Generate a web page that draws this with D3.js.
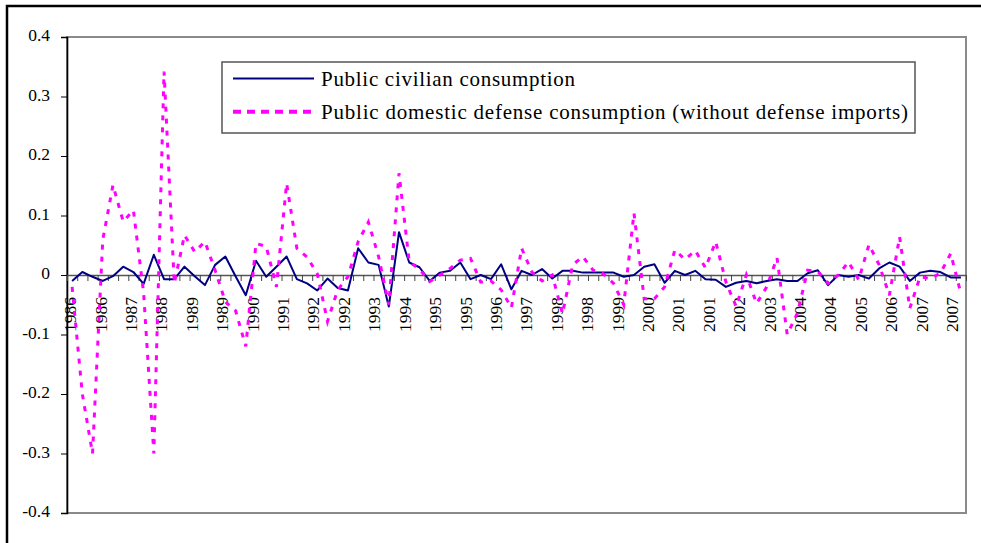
<!DOCTYPE html>
<html>
<head>
<meta charset="utf-8">
<script src="https://cdn.jsdelivr.net/npm/d3@7"></script>
<style>
    html, body { margin: 0; padding: 0; background: #fff; }
    svg { display: block; }
    svg text { font-family: "Liberation Serif", "Times New Roman", serif; }
</style>
</head>
<body>
<svg id="chart" width="981" height="543"></svg>
<script>
// quarterly observations, 1986Q1 .. 2007Q4
const years = d3.range(1986, 2008);
const quarters = years.flatMap(y => [y, y, y, y]);

const civilian = [
    -0.010, 0.005, -0.003, -0.010, -0.002, 0.014, 0.005, -0.015, 0.034, -0.007,
    -0.007, 0.014, -0.002, -0.017, 0.017, 0.031, -0.002, -0.034, 0.024, -0.003,
    0.014, 0.031, -0.007, -0.014, -0.026, -0.006, -0.022, -0.026, 0.045, 0.021,
    0.017, -0.053, 0.072, 0.021, 0.013, -0.010, 0.004, 0.007, 0.021, -0.007,
    0.000, -0.007, 0.018, -0.024, 0.007, 0.000, 0.010, -0.006, 0.007, 0.007,
    0.004, 0.004, 0.004, 0.004, -0.003, 0.000, 0.014, 0.018, -0.013, 0.007,
    0.000, 0.007, -0.007, -0.008, -0.020, -0.013, -0.010, -0.014, -0.010, -0.007,
    -0.010, -0.010, 0.003, 0.008, -0.017, 0.000, -0.003, 0.000, -0.006, 0.011,
    0.021, 0.014, -0.010, 0.004, 0.007, 0.005, -0.004, -0.004
];

const defense = [
    -0.020, -0.200, -0.300, 0.059, 0.151, 0.090, 0.109, -0.030, -0.300, 0.342,
    -0.014, 0.067, 0.039, 0.056, 0.008, -0.045, -0.060, -0.120, 0.053, 0.048,
    -0.020, 0.154, 0.045, 0.030, 0.002, -0.078, -0.025, -0.003, 0.056, 0.089,
    0.031, -0.050, 0.171, 0.022, 0.010, -0.011, 0.000, 0.011, 0.025, 0.028,
    -0.012, -0.010, -0.025, -0.055, 0.045, 0.005, -0.010, 0.000, -0.065, 0.017,
    0.031, 0.008, 0.002, -0.014, -0.050, 0.104, -0.040, -0.040, -0.020, 0.042,
    0.026, 0.041, 0.012, 0.056, -0.012, -0.053, 0.000, -0.048, -0.020, 0.029,
    -0.100, -0.064, 0.008, 0.006, -0.014, 0.000, 0.022, -0.008, 0.051, 0.017,
    -0.034, 0.064, -0.056, -0.003, -0.006, 0.003, 0.036, -0.031
];

const yTicks = [0.4, 0.3, 0.2, 0.1, 0, -0.1, -0.2, -0.3, -0.4];
const seriesNames = [
    "Public civilian consumption",
    "Public domestic defense consumption (without defense imports)"
];

document.addEventListener('DOMContentLoaded', () => {

    const svg = d3.select("#chart");
    const plot = { left: 67, right: 966, top: 37, bottom: 513 };
    const serif = "Liberation Serif, Times New Roman, serif";

    // outer chart frame
    svg.append("rect")
        .attr("x", 7).attr("y", 6)
        .attr("width", 1000).attr("height", 600)
        .attr("fill", "none")
        .attr("stroke", "#000")
        .attr("stroke-width", 2.5);

    // scales
    const idx = d3.range(quarters.length);
    const x = d3.scaleBand().domain(idx).range([plot.left, plot.right]);
    const xc = i => x(i) + x.bandwidth() / 2;
    const xEdge = d3.scaleLinear().domain([0, quarters.length]).range([plot.left, plot.right]);
    const xLabel = d3.scaleLinear().domain([0, quarters.length - 1]).range([70, 952]);
    const y = d3.scaleLinear().domain([-0.4, 0.4]).range([plot.bottom, plot.top]);

    // plot area border
    svg.append("rect")
        .attr("x", plot.left).attr("y", plot.top)
        .attr("width", plot.right - plot.left)
        .attr("height", plot.bottom - plot.top)
        .attr("fill", "none")
        .attr("stroke", "#8a8a8a")
        .attr("stroke-width", 2);

    // y axis
    const yAxis = d3.axisLeft(y)
        .tickValues(yTicks)
        .tickSize(6)
        .tickPadding(11)
        .tickFormat(d => d === 0 ? "0" : d.toFixed(1));

    const gy = svg.append("g")
        .attr("transform", `translate(${plot.left},0)`)
        .call(yAxis)
        .attr("font-family", serif)
        .attr("font-size", 17.5);
    gy.select(".domain").attr("stroke", "#000").attr("stroke-width", 1.6);
    gy.selectAll(".tick line").attr("stroke", "#000");
    gy.selectAll(".tick text")
        .attr("fill", "#000")
        .attr("dy", "0.2em");

    // x axis at zero: ticks on every quarter boundary
    const xAxis = d3.axisBottom(xEdge)
        .tickValues(d3.range(quarters.length + 1))
        .tickSize(6)
        .tickSizeOuter(0)
        .tickFormat("");

    const gx = svg.append("g")
        .attr("transform", `translate(0,${y(0)})`)
        .call(xAxis);
    gx.select(".domain").attr("stroke", "#555").attr("stroke-width", 1.6);
    gx.selectAll(".tick line").attr("stroke", "#444");

    // year labels on every third quarter, rotated
    svg.append("g")
        .attr("font-family", serif)
        .selectAll("text")
        .data(idx.filter(i => i % 3 === 0))
        .enter().append("text")
        .attr("transform", i => `translate(${xLabel(i)},${y(0) + 22}) rotate(-90)`)
        .attr("text-anchor", "end")
        .attr("dy", "0.35em")
        .attr("font-size", 17.5)
        .attr("fill", "#000")
        .text(i => quarters[i]);

    // series lines
    const line = d3.line()
        .x((d, i) => xc(i))
        .y(d => y(d));

    svg.append("path")
        .datum(civilian)
        .attr("fill", "none")
        .attr("stroke", "#000080")
        .attr("stroke-width", 2)
        .attr("stroke-linejoin", "round")
        .attr("d", line);

    svg.append("path")
        .datum(defense)
        .attr("fill", "none")
        .attr("stroke", "#ff00ff")
        .attr("stroke-width", 3)
        .attr("stroke-dasharray", "5,7")
        .attr("d", line);

    // legend
    const lg = svg.append("g").attr("font-family", serif);
    lg.append("rect")
        .attr("x", 222).attr("y", 62)
        .attr("width", 693).attr("height", 71)
        .attr("fill", "#fff")
        .attr("stroke", "#555")
        .attr("stroke-width", 1.5);

    const legendRows = [
        { name: seriesNames[0], color: "#000080", width: 2, dash: null, len: 254 },
        { name: seriesNames[1], color: "#ff00ff", width: 4, dash: "8,6", len: 587 }
    ];

    legendRows.forEach((r, k) => {
        const ly = 78.5 + k * 33.3;
        lg.append("line")
            .attr("x1", 233).attr("x2", 314)
            .attr("y1", ly).attr("y2", ly)
            .attr("stroke", r.color)
            .attr("stroke-width", r.width)
            .attr("stroke-dasharray", r.dash);
        lg.append("text")
            .attr("x", 321).attr("y", ly + 7)
            .attr("font-size", 21)
            .attr("fill", "#000")
            .attr("textLength", r.len)
            .attr("lengthAdjust", "spacing")
            .text(r.name);
    });
});
</script>
</body>
</html>
